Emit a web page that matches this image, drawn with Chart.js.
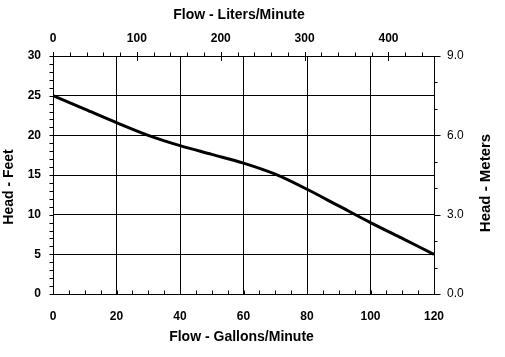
<!DOCTYPE html>
<html><head><meta charset="utf-8">
<script src="https://cdn.jsdelivr.net/npm/chart.js@4/dist/chart.umd.min.js"></script>
<style>html,body{margin:0;padding:0;background:#fff}#wrap{width:505px;height:357px}</style>
</head><body><div id="wrap"><canvas id="c" width="505" height="357"></canvas></div>
<script>
// ---- data ----
const flowGpm  = [0, 10, 20, 30, 40, 50, 60, 70, 80, 90, 100, 110, 120];
const headFeet = [25, 23.3, 21.6, 20.0, 18.7, 17.6, 16.5, 15.1, 13.2, 11.1, 9.0, 7.0, 5.0];
const gpmTicks   = [0, 20, 40, 60, 80, 100, 120];
const feetTicks  = [0, 5, 10, 15, 20, 25, 30];
const literTicks = [0, 100, 200, 300, 400];
const meterTicks = [0, 3, 6, 9];
const gpmMinorStep = 5, literMinorStep = 20, feetMinorStep = 1, meterMinorStep = 1;
const LITERS_PER_GALLON = 3.78541;
const titleBottom = 'Flow - Gallons/Minute';
const titleTop = 'Flow - Liters/Minute';
const titleLeft = 'Head - Feet';
const titleRight = 'Head - Meters';

const FONT = '"Liberation Sans", Arial, sans-serif';
const INK = '#000';

function minorValues(min, max, step){ const out=[]; for(let v=min; v<=max+1e-9; v+=step) out.push(v); return out; }

const decorPlugin = {
  id: 'decor',
  afterDraw(chart){
    const ctx = chart.ctx, a = chart.chartArea, s = chart.scales;
    ctx.save();
    ctx.strokeStyle = INK; ctx.lineWidth = 1;
    const h = (x, y1, y2) => { const px = Math.round(x) + 0.5; ctx.beginPath(); ctx.moveTo(px, y1); ctx.lineTo(px, y2); ctx.stroke(); };
    const v = (y, x1, x2) => { const py = Math.round(y) + 0.5; ctx.beginPath(); ctx.moveTo(x1, py); ctx.lineTo(x2, py); ctx.stroke(); };
    const top = Math.round(a.top) + 0.5, bot = Math.round(a.bottom) + 0.5;
    const lef = Math.round(a.left) + 0.5, rig = Math.round(a.right) + 0.5;
    // bottom minor ticks (inside)
    minorValues(0, 120, gpmMinorStep).forEach(g => h(s.x.getPixelForValue(g), bot, bot - 4));
    // top minor ticks (outside), major ticks crossing
    minorValues(0, 120 * LITERS_PER_GALLON, literMinorStep).forEach(l => h(s.x2.getPixelForValue(l), top, top - 4));
    literTicks.forEach(l => h(s.x2.getPixelForValue(l), top - 4.5, top + 4.5));
    // left minor/major ticks (outside)
    minorValues(0, 30, feetMinorStep).forEach(f => v(s.y.getPixelForValue(f), lef, lef - 4));
    // right minor / major ticks (outside)
    minorValues(0, 9, meterMinorStep).forEach(m => v(s.y2.getPixelForValue(m), rig, rig + 3));
    meterTicks.forEach(m => v(s.y2.getPixelForValue(m), rig, rig + 6));
    // titles
    ctx.fillStyle = INK; ctx.textBaseline = 'middle'; ctx.textAlign = 'center';
    ctx.font = 'bold 14px ' + FONT;
    ctx.fillText(titleTop, 239, 15.5);
    ctx.fillText(titleBottom, 241.5, 337);
    ctx.save(); ctx.translate(9.5, 187); ctx.rotate(-Math.PI / 2); ctx.fillText(titleLeft, 0, 0); ctx.restore();
    ctx.font = 'bold 15px ' + FONT;
    ctx.save(); ctx.translate(486, 183); ctx.rotate(-Math.PI / 2); ctx.fillText(titleRight, 0, 0); ctx.restore();
    ctx.restore();
  }
};

const setTicks = list => scale => { scale.ticks = list.map(value => ({ value })); };
const tickFont = { family: FONT, size: 12, weight: 'bold' };

new Chart(document.getElementById('c'), {
  type: 'line',
  data: {
    datasets: [{
      data: flowGpm.map((g, i) => ({ x: g, y: headFeet[i] })),
      borderColor: INK, borderWidth: 3, pointRadius: 0,
      cubicInterpolationMode: 'monotone', fill: false,
      xAxisID: 'x', yAxisID: 'y'
    }]
  },
  options: {
    responsive: false, animation: false, devicePixelRatio: 1,
    layout: { padding: 0 },
    plugins: { legend: { display: false }, tooltip: { enabled: false }, title: { display: false } },
    scales: {
      x: {
        type: 'linear', position: 'bottom', min: 0, max: 120,
        afterBuildTicks: setTicks(gpmTicks),
        afterFit(scale){ scale.height = 63; },
        grid: { color: INK, lineWidth: 1, drawTicks: false },
        border: { display: true, color: INK, width: 1 },
        ticks: { font: tickFont, color: INK, padding: 15.5, maxRotation: 0, autoSkip: false }
      },
      x2: {
        type: 'linear', position: 'top', min: 0, max: 120 * LITERS_PER_GALLON,
        afterBuildTicks: setTicks(literTicks),
        afterFit(scale){ scale.height = 56; },
        grid: { display: false, drawTicks: false },
        border: { display: true, color: INK, width: 1 },
        ticks: { font: tickFont, color: INK, padding: 10.5, maxRotation: 0, autoSkip: false }
      },
      y: {
        type: 'linear', position: 'left', min: 0, max: 30,
        afterBuildTicks: setTicks(feetTicks),
        afterFit(scale){ scale.width = 53; },
        grid: { color: INK, lineWidth: 1, drawTicks: false },
        border: { display: true, color: INK, width: 1 },
        ticks: { font: tickFont, color: INK, padding: 12, autoSkip: false }
      },
      y2: {
        type: 'linear', position: 'right', min: 0, max: 9,
        afterBuildTicks: setTicks(meterTicks),
        afterFit(scale){ scale.width = 71; },
        grid: { display: false, drawTicks: false },
        border: { display: true, color: INK, width: 1 },
        ticks: { font: { family: FONT, size: 12, weight: 'normal' }, color: INK, padding: 13, autoSkip: false,
                 callback: v => Number(v).toFixed(1) }
      }
    }
  },
  plugins: [decorPlugin]
});
</script>
</body></html>
